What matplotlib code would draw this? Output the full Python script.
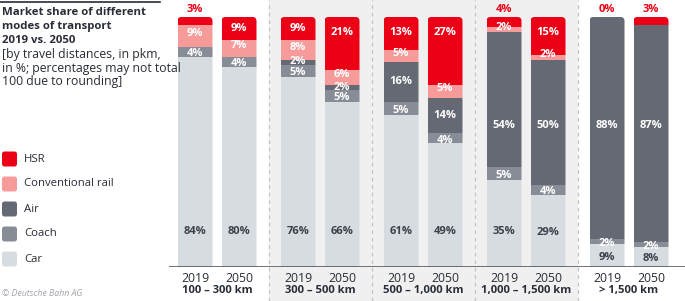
import matplotlib
matplotlib.use("Agg")
import matplotlib.pyplot as plt
from matplotlib.patches import FancyBboxPatch, Rectangle
import matplotlib.transforms as mtransforms
import numpy as np

plt.rcParams['font.family'] = ['Open Sans', 'DejaVu Sans']

groups = ["100 – 300 km", "300 – 500 km", "500 – 1,000 km", "1,000 – 1,500 km", "> 1,500 km"]
years = ["2019", "2050"]
modes = ["Car", "Coach", "Air", "Conventional rail", "HSR"]
car   = [84, 80, 76, 66, 61, 49, 35, 29, 9, 8]
coach = [4, 4, 5, 5, 5, 4, 5, 4, 2, 2]
air   = [0, 0, 2, 2, 16, 14, 54, 50, 88, 87]
conv  = [9, 7, 8, 6, 5, 5, 2, 2, 0, 0]
hsr   = [3, 9, 9, 21, 13, 27, 4, 15, 0, 3]

colors = {"HSR": "#ec0016", "Conventional rail": "#f69a9a", "Air": "#646973",
          "Coach": "#878c96", "Car": "#d7dce1"}
series = [car, coach, air, conv, hsr]

W, H = 685, 301
fig = plt.figure(figsize=(W / 100, H / 100), dpi=100)
fig.patch.set_facecolor("white")

# axes: x pixel 169..685, y pixel 0..267
ax_left, ax_right = 169, 685
ax_top, ax_bottom = 0, 267
ax = fig.add_axes([ax_left / W, (H - ax_bottom) / H, (ax_right - ax_left) / W, (ax_bottom - ax_top) / H])
ax.set_facecolor("none")
px_per_group = 103.0
g0 = 217.0
ax.set_xlim((ax_left - g0) / px_per_group, (ax_right - g0) / px_per_group)
px_per_unit = 2.5
ax.set_ylim(0, ax_bottom / px_per_unit)
for s in ax.spines.values():
    s.set_visible(False)
ax.set_xticks([])
ax.set_yticks([])

ng = len(groups)
offset = 22 / px_per_group
bw = 35 / px_per_group
xs = []
for g in range(ng):
    xs += [g - offset, g + offset]
xs = np.array(xs)

# background panel for groups 2..4 and separators
trans = mtransforms.blended_transform_factory(ax.transData, fig.transFigure)
bg = Rectangle((0.5, 0), 3.0, 1, transform=trans, facecolor="#f1f0f1", edgecolor="none",
               zorder=0, clip_on=False)
ax.add_artist(bg)
for g in range(ng - 1):
    ax.plot([g + 0.5, g + 0.5], [0, 1], transform=trans, color="#c4c4c4", lw=0.9,
            ls=(0, (3, 3)), clip_on=False, zorder=0.5)

ax.axhline(0, color="#55595f", lw=1.2, zorder=5)

aspect = (1 / px_per_unit) / (1 / px_per_group)
data = np.array(series, dtype=float)  # 5 x 10
totals = data.sum(axis=0)
norm = data / totals * 100

for i, x in enumerate(xs):
    clip = FancyBboxPatch((x - bw / 2, -5), bw, 105, boxstyle="round,pad=0,rounding_size=%f" % (4 / px_per_group),
                          mutation_aspect=aspect, transform=ax.transData, facecolor="none", edgecolor="none")
    ax.add_patch(clip)
    bottom = 0
    for k, m in enumerate(modes):
        h = norm[k, i]
        if h <= 0:
            continue
        r = ax.bar(x, h, bottom=bottom, width=bw, color=colors[m], edgecolor="none", zorder=2)
        for p in r.patches:
            p.set_clip_path(clip)
        bottom += h

lab_kw = dict(ha="center", va="center", fontsize=8.0, fontweight="bold", zorder=6)
for i, x in enumerate(xs):
    cum = np.concatenate([[0], np.cumsum(norm[:, i])])
    for k, m in enumerate(modes):
        v = data[k, i]
        h = norm[k, i]
        mid = (cum[k] + cum[k + 1]) / 2
        if m == "Car":
            y = 14.4 if h > 30 else mid - 0.6
            ax.text(x, y, f"{int(v)}%", color="#3c414b", **lab_kw)
        elif m == "Air":
            if v == 0:
                continue
            y = 56.4 if h > 40 else mid
            ax.text(x, y, f"{int(v)}%", color="white", **lab_kw)
        elif m == "HSR":
            if h < 5:
                ax.text(x, 102.8, f"{int(v)}%", color="#ec0016", **lab_kw)
            else:
                y = mid if h <= 10 else 93.8
                ax.text(x, y, f"{int(v)}%", color="white", **lab_kw)
        elif m == "Conventional rail":
            if v == 0:
                continue
            ax.text(x, mid + 1.0, f"{int(v)}%", color="white", **lab_kw)
        else:
            ax.text(x, mid - 0.8, f"{int(v)}%", color="white", **lab_kw)

# x labels
for i, x in enumerate(xs):
    ax.text(x, -4.4, years[i % 2], ha="center", va="center", fontsize=8.8, color="#282d37",
            clip_on=False)
for g, name in enumerate(groups):
    ax.text(g, -9.4, name, ha="center", va="center", fontsize=8.1, fontweight="bold",
            color="#282d37", clip_on=False)

# left panel
fig.add_artist(plt.Line2D([0, 160 / W], [1 - 1.5 / H, 1 - 1.5 / H], color="#282d37", lw=1.2))
title = ["Market share of different", "modes of transport", "2019 vs. 2050"]
sub = ["[by travel distances, in pkm,", "in %; percentages may not total", "100 due to rounding]"]
ty = 12.5
for t in title:
    fig.text(2 / W, 1 - ty / H, t, fontsize=8.2, fontweight="bold", color="#282d37", va="center")
    ty += 14
for t in sub:
    fig.text(2 / W, 1 - ty / H, t, fontsize=8.8, color="#282d37", va="center")
    ty += 13.7

leg_y = 159
for m in ["HSR", "Conventional rail", "Air", "Coach", "Car"]:
    sq = FancyBboxPatch((2 / W, 1 - (leg_y + 7.5) / H), 15 / W, 15 / H,
                        boxstyle="round,pad=0,rounding_size=%f" % (2.5 / W),
                        mutation_aspect=W / H, transform=fig.transFigure,
                        facecolor=colors[m], edgecolor="none")
    fig.add_artist(sq)
    fig.text(24 / W, 1 - leg_y / H, m, fontsize=8.2, color="#282d37", va="center")
    leg_y += 25

fig.text(2 / W, 1 - 293 / H, "© Deutsche Bahn AG", fontsize=6.3, style="italic", color="#a0a4aa", va="center")

fig.savefig("out.png", dpi=100)
